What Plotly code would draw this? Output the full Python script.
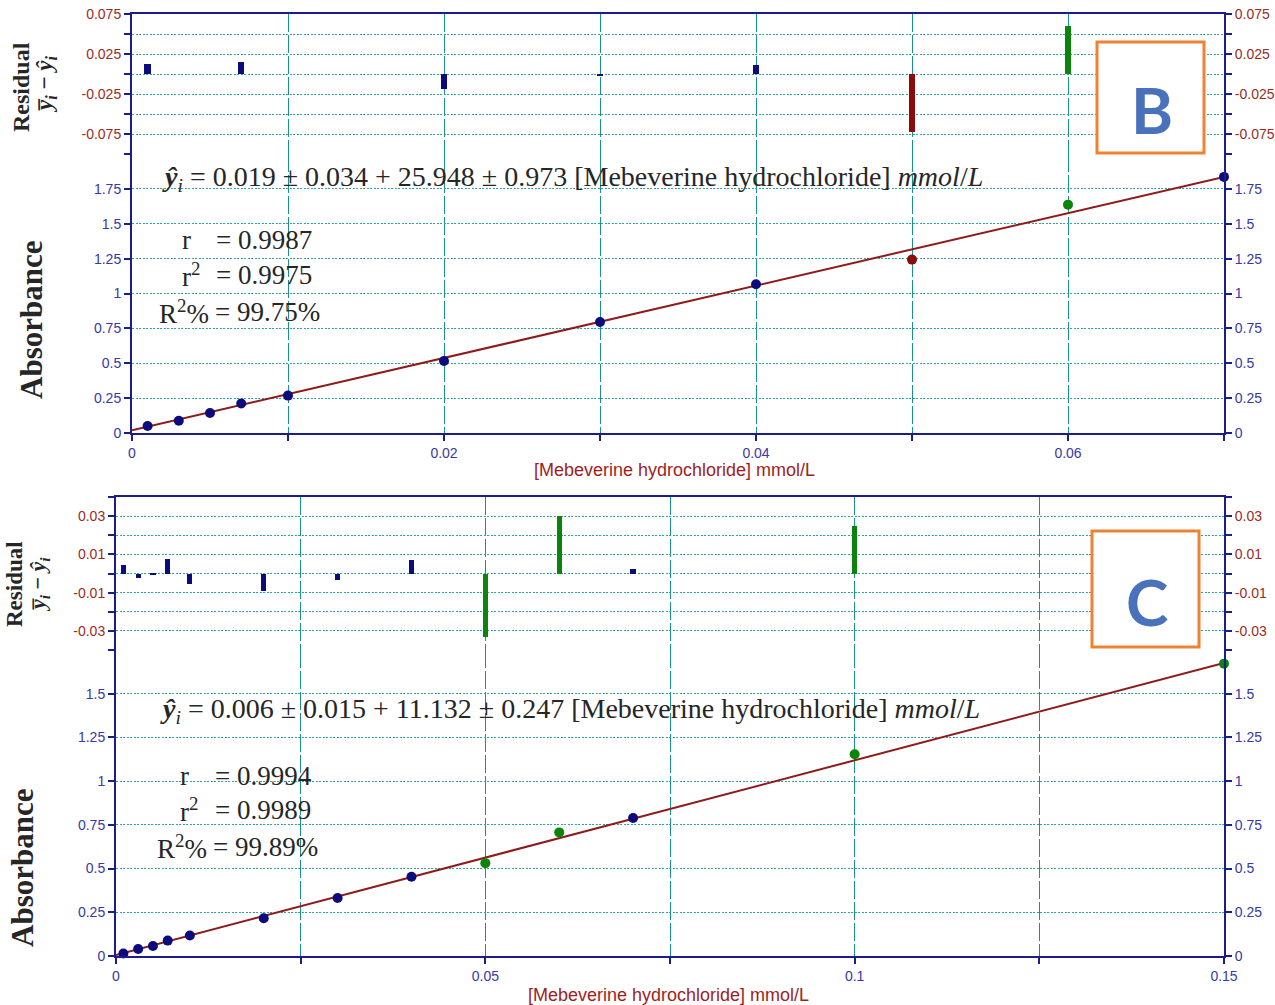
import plotly.graph_objects as go

W, H = 1275, 1005

# ---------------- Panel B : calibration 0.001-0.07 mmol/L ----------------
b_conc = [0.001, 0.003, 0.005, 0.007, 0.01, 0.02, 0.03, 0.04, 0.05, 0.06, 0.07]
b_abs = [0.050, 0.088, 0.143, 0.212, 0.268, 0.516, 0.796, 1.066, 1.243, 1.637, 1.836]
b_resid = [0.013, 0.0, 0.0, 0.015, 0.0, -0.019, -0.0025, 0.011, -0.073, 0.060, 0.0]
b_group = ["n", "n", "n", "n", "n", "n", "n", "n", "r", "g", "n"]
b_intercept, b_slope = 0.019, 25.948
b_xticks = [0, 0.01, 0.02, 0.03, 0.04, 0.05, 0.06, 0.07]
b_xtext = ["0", "", "0.02", "", "0.04", "", "0.06", ""]
b_rticks = [-0.1, -0.075, -0.05, -0.025, 0, 0.025, 0.05, 0.075]
b_rtext = ["", "-0.075", "", "-0.025", "", "0.025", "", "0.075"]
b_aticks = [0, 0.25, 0.5, 0.75, 1, 1.25, 1.5, 1.75]
b_atext = ["0", "0.25", "0.5", "0.75", "1", "1.25", "1.5", "1.75"]

# ---------------- Panel C : calibration 0.001-0.15 mmol/L ----------------
c_conc = [0.001, 0.003, 0.005, 0.007, 0.01, 0.02, 0.03, 0.04, 0.05, 0.06, 0.07, 0.1, 0.15]
c_abs = [0.014, 0.040, 0.057, 0.088, 0.117, 0.216, 0.332, 0.453, 0.531, 0.707, 0.789, 1.154, 1.672]
c_resid = [0.0042, -0.0021, -0.001, 0.0078, -0.0057, -0.0092, -0.0036, 0.0069,
           -0.0332, 0.0302, 0.0024, 0.0248, 0.0]
c_group = ["n", "n", "n", "n", "n", "n", "n", "n", "g", "g", "n", "g", "g"]
c_intercept, c_slope = 0.006, 11.132
c_xticks = [0, 0.025, 0.05, 0.075, 0.1, 0.125, 0.15]
c_xtext = ["0", "", "0.05", "", "0.1", "", "0.15"]
c_rticks = [-0.04, -0.03, -0.02, -0.01, 0, 0.01, 0.02, 0.03, 0.04]
c_rtext = ["", "-0.03", "", "-0.01", "", "0.01", "", "0.03", ""]
c_aticks = [0, 0.25, 0.5, 0.75, 1, 1.25, 1.5, 1.75]
c_atext = ["0", "0.25", "0.5", "0.75", "1", "1.25", "1.5", ""]

X_TITLE = "[Mebeverine hydrochloride] mmol/L"

# ---------------- styling ----------------
NAVY = "#1C1C8C"
GRID_V = "#1A9090"
GRID_H = "#2BA6A6"
RES_LBL = "#9A2C1E"
ABS_LBL = "#3838A8"
TITLE_RED = "#9E1E1E"
FIT_RED = "#8E1B1B"
TXT = "#262626"
GROUP_COLOR = {"n": "#0B0B7E", "r": "#8B0A0A", "g": "#0A840A"}
TICK_FONT = "Liberation Sans Narrow, Liberation Sans, Arial, sans-serif"
SERIF = "Liberation Serif"


def fx(p):
    return p / W


def fy(p):
    return 1 - p / H


fig = go.Figure()


def add_panel(n, conc, absb, resid, group, b0, b1, xmax, bar_w,
              xt, xtt, rt, rtt, rrange, at, att, arange,
              left, right, top, mid, bottom):
    # axis ids for this panel
    xm, xr = f"x{2*n-1 if n > 1 else ''}", f"x{2*n}"
    ym, yr = f"y{4*n-3 if n > 1 else ''}", f"y{4*n-2}"
    ymR, yrR = f"y{4*n-1}", f"y{4*n}"
    cols = [GROUP_COLOR[g] for g in group]

    # residual bars
    fig.add_trace(go.Bar(x=conc, y=resid, width=bar_w, marker=dict(color=cols, line=dict(width=0)),
                         xaxis=xr, yaxis=yr, showlegend=False, hoverinfo="skip"))
    fig.add_trace(go.Scatter(x=conc, y=resid, mode="markers", marker=dict(opacity=0),
                             xaxis=xr, yaxis=yrR, showlegend=False, hoverinfo="skip"))
    # fitted line
    fx_line = [0, xmax]
    fig.add_trace(go.Scatter(x=fx_line, y=[b0 + b1 * v for v in fx_line], mode="lines",
                             line=dict(color=FIT_RED, width=2), xaxis=xm, yaxis=ym,
                             showlegend=False, hoverinfo="skip", cliponaxis=False))
    # measured absorbance
    fig.add_trace(go.Scatter(x=conc, y=absb, mode="markers",
                             marker=dict(color=cols, size=10, line=dict(width=0)),
                             xaxis=xm, yaxis=ym, showlegend=False, cliponaxis=False))
    fig.add_trace(go.Scatter(x=conc, y=absb, mode="markers", marker=dict(opacity=0),
                             xaxis=xm, yaxis=ymR, showlegend=False, hoverinfo="skip"))

    xdom = [fx(left), fx(right)]
    xbase = dict(range=[0, xmax], domain=xdom, tickvals=xt, ticktext=xtt,
                 showgrid=True, gridcolor=GRID_V, griddash="18px,3px", gridwidth=1.4,
                 zeroline=False, showline=True, linecolor=NAVY, linewidth=2,
                 fixedrange=True, automargin=False)
    lay = {}
    lay["xaxis" + xm[1:]] = dict(xbase, anchor=ym, ticks="outside", ticklen=6, tickwidth=2,
                                 tickcolor=NAVY,
                                 tickfont=dict(family=TICK_FONT, size=14, color=ABS_LBL))
    lay["xaxis" + xr[1:]] = dict(xbase, anchor=yr, side="top", ticks="", showticklabels=False,
                                 matches=xm)

    def ybase(rng, vals, txt, color, dom, side, grid, overlay=None):
        d = dict(range=rng, domain=dom, tickvals=vals, ticktext=txt, side=side,
                 tickfont=dict(family=TICK_FONT, size=14, color=color),
                 showgrid=grid, gridcolor=GRID_H, griddash="2px,1.5px", gridwidth=1.2,
                 zeroline=False, showline=True, linecolor=NAVY, linewidth=2,
                 ticks="outside", ticklen=6, tickwidth=2, tickcolor=NAVY,
                 fixedrange=True, automargin=False)
        if overlay:
            d["overlaying"] = overlay
        return d

    rdom = [fy(mid), fy(top)]
    adom = [fy(bottom), fy(mid)]
    lay["yaxis" + ym[1:]] = dict(ybase(arange, at, att, ABS_LBL, adom, "left", True), anchor=xm)
    lay["yaxis" + yr[1:]] = dict(ybase(rrange, rt, rtt, RES_LBL, rdom, "left", True), anchor=xr)
    lay["yaxis" + ymR[1:]] = dict(ybase(arange, at, att, ABS_LBL, adom, "right", False, ym), anchor=xm)
    lay["yaxis" + yrR[1:]] = dict(ybase(rrange, rt, rtt, RES_LBL, rdom, "right", False, yr), anchor=xr)
    fig.update_layout(**lay)


add_panel(1, b_conc, b_abs, b_resid, b_group, b_intercept, b_slope, 0.07, 0.0004,
          b_xticks, b_xtext, b_rticks, b_rtext, [-0.1, 0.075], b_aticks, b_atext, [0, 2],
          left=132, right=1224, top=14, mid=154, bottom=433)
add_panel(2, c_conc, c_abs, c_resid, c_group, c_intercept, c_slope, 0.15, 0.0007,
          c_xticks, c_xtext, c_rticks, c_rtext, [-0.04, 0.04], c_aticks, c_atext, [0, 1.75],
          left=116, right=1224, top=497, mid=650, bottom=956)

ann = []


def text(x, y, s, size, color=TXT, family=SERIF, xanchor="left", angle=0):
    ann.append(dict(x=fx(x), y=fy(y), xref="paper", yref="paper", text=s, showarrow=False,
                    xanchor=xanchor, yanchor="middle", textangle=angle,
                    font=dict(family=family, size=size, color=color)))


Y_HAT = "<b><i>ŷ</i></b><sub><i>i</i></sub>"
UNIT = "[Mebeverine hydrochloride] <i>mmol</i>/<i>L</i>"
EQ = 28
ST = 27

# fitted equation and statistics, panel B
text(160, 178, f"{Y_HAT} = {b_intercept:.3f} ± 0.034 + {b_slope:.3f} ± 0.973 {UNIT}", EQ)
text(180, 240, "r", ST)
text(180, 275, "r<sup>2</sup>", ST)
text(211, 312, "R<sup>2</sup>%", ST, xanchor="right")
text(214, 240, "= 0.9987", ST)
text(214, 275, "= 0.9975", ST)
text(213, 312, "= 99.75%", ST)

# fitted equation and statistics, panel C
text(158, 710, f"{Y_HAT} = {c_intercept:.3f} ± 0.015 + {c_slope:.3f} ± 0.247 {UNIT}", EQ)
text(178, 776, "r", ST)
text(178, 810, "r<sup>2</sup>", ST)
text(209, 847, "R<sup>2</sup>%", ST, xanchor="right")
text(213, 776, "= 0.9994", ST)
text(213, 810, "= 0.9989", ST)
text(211, 847, "= 99.89%", ST)

# axis titles
RES_T = "<b>Residual</b>"
RES_T2 = "<b><i>y̅<sub>i</sub></i> − <i>ŷ<sub>i</sub></i></b>"
text(21, 87, RES_T, 24, xanchor="center", angle=-90)
text(46, 84, RES_T2, 23, xanchor="center", angle=-90)
text(31, 320, "<b>Absorbance</b>", 31, xanchor="center", angle=-90)
text(14, 584, RES_T, 23, xanchor="center", angle=-90)
text(39, 585, RES_T2, 22, xanchor="center", angle=-90)
text(22, 868, "<b>Absorbance</b>", 31, xanchor="center", angle=-90)
text(674, 470, X_TITLE, 18, color=TITLE_RED, family=TICK_FONT, xanchor="center")
text(668, 995, X_TITLE, 18, color=TITLE_RED, family=TICK_FONT, xanchor="center")

# panel letters
shapes = [
    dict(type="rect", xref="paper", yref="paper", x0=fx(1097), x1=fx(1204), y0=fy(153), y1=fy(42),
         line=dict(color="#EE8134", width=3), fillcolor="white", layer="above"),
    dict(type="rect", xref="paper", yref="paper", x0=fx(1092), x1=fx(1199), y0=fy(647), y1=fy(531),
         line=dict(color="#EE8134", width=3), fillcolor="white", layer="above"),
]
text(1152, 110, "<b>B</b>", 64, color="#4A72BA", family="Lato, Liberation Sans, sans-serif",
     xanchor="center")
text(1147, 601, "<b>C</b>", 64, color="#4A72BA", family="Lato, Liberation Sans, sans-serif",
     xanchor="center")

fig.update_layout(width=W, height=H, margin=dict(l=0, r=0, t=0, b=0),
                  paper_bgcolor="white", plot_bgcolor="white", template="none",
                  showlegend=False, annotations=ann, shapes=shapes, bargap=0)

fig.write_html("out.html")
